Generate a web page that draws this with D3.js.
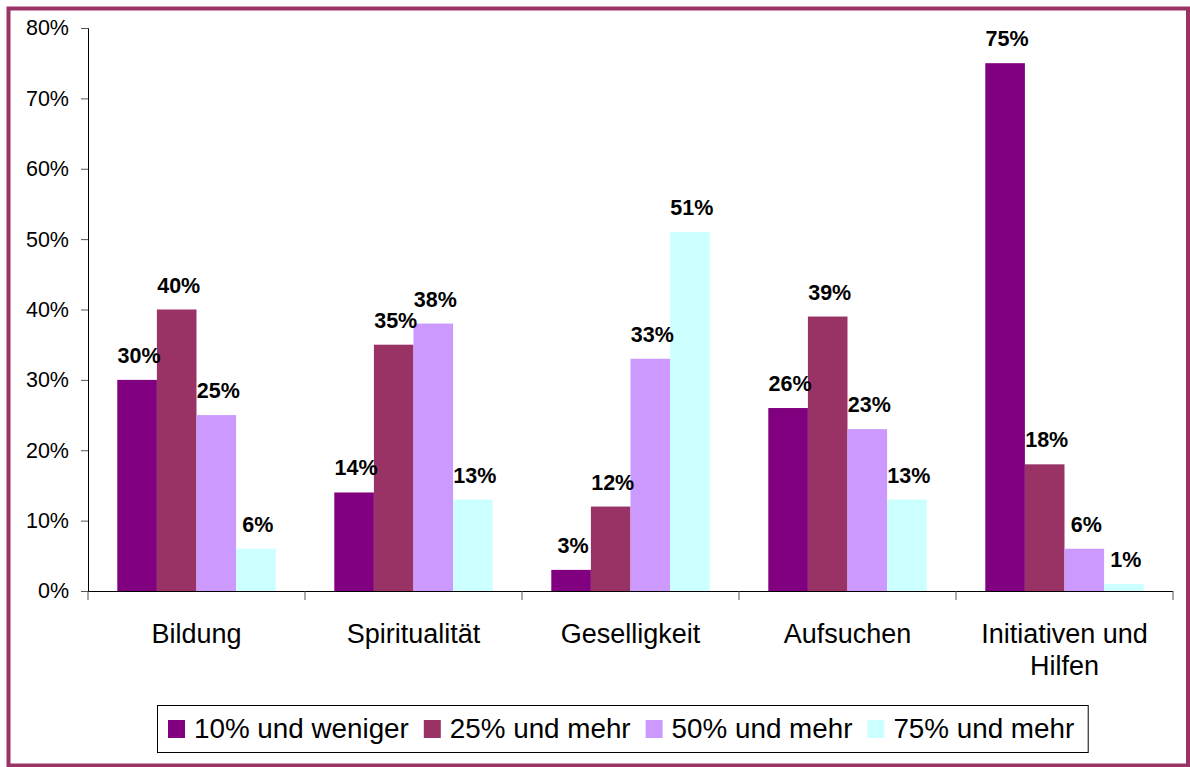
<!DOCTYPE html>
<html>
<head>
<meta charset="utf-8">
<script src="https://cdn.jsdelivr.net/npm/d3@7"></script>
<style>
  body { margin: 0; background: #fff; }
  svg { display: block; font-family: "Liberation Sans", Arial, sans-serif; }
</style>
</head>
<body>
<svg id="chart"></svg>
<script>
var categories = ["Bildung", "Spiritualität", "Geselligkeit", "Aufsuchen", "Initiativen und Hilfen"];
var seriesNames = ["10% und weniger", "25% und mehr", "50% und mehr", "75% und mehr"];
var weniger10 = [30, 14, 3, 26, 75];
var mehr25 = [40, 35, 12, 39, 18];
var mehr50 = [25, 38, 33, 23, 6];
var mehr75 = [6, 13, 51, 13, 1];
var yTicks = [0, 10, 20, 30, 40, 50, 60, 70, 80];
var colors = ["#800080", "#993366", "#CC99FF", "#CCFFFF"];

var seriesValues = [weniger10, mehr25, mehr50, mehr75];

var svgWidth = 1190, svgHeight = 767;
var plotLeft = 88, plotRight = 1173, plotTop = 28, plotBottom = 591;

var svg = d3.select("#chart")
    .attr("width", svgWidth)
    .attr("height", svgHeight);

// outer frame
svg.append("rect")
    .attr("x", 8.5).attr("y", 8.5)
    .attr("width", 1179.5).attr("height", 757)
    .attr("fill", "#fff")
    .attr("stroke", "#993366")
    .attr("stroke-width", 4);

var x0 = d3.scaleBand()
    .domain(categories)
    .range([plotLeft, plotRight])
    .paddingInner(0.27)
    .paddingOuter(0.135);

var x1 = d3.scaleBand()
    .domain(seriesNames)
    .range([0, x0.bandwidth()]);

var y = d3.scaleLinear()
    .domain([0, 80])
    .range([plotBottom, plotTop]);

// y axis
var yAxis = svg.append("g")
    .attr("transform", "translate(" + plotLeft + ",0)")
    .call(d3.axisLeft(y).tickValues(yTicks).tickSize(7).tickPadding(12)
        .tickFormat(function(d) { return d + "%"; }));
yAxis.select(".domain").attr("stroke", "#000");
yAxis.selectAll(".tick line").attr("stroke", "#555");
yAxis.selectAll("text")
    .attr("font-size", 21.5)
    .attr("fill", "#000")
    .attr("font-family", "Liberation Sans, Arial, sans-serif");

// bars
function rowsFor(i) {
    return seriesNames.map(function(s, j) { return { s: s, j: j, v: seriesValues[j][i] }; });
}

var groups = svg.selectAll(".grp")
    .data(categories)
    .enter()
    .append("g")
    .attr("class", "grp")
    .attr("transform", function(d) { return "translate(" + x0(d) + ",0)"; });

groups.selectAll("rect")
    .data(function(d, i) { return rowsFor(i); })
    .enter()
    .append("rect")
    .attr("x", function(d) { return x1(d.s); })
    .attr("y", function(d) { return y(d.v); })
    .attr("width", x1.bandwidth())
    .attr("height", function(d) { return plotBottom - y(d.v); })
    .attr("fill", function(d) { return colors[d.j]; });

groups.selectAll(".textlabel")
    .data(function(d, i) { return rowsFor(i); })
    .enter()
    .append("text")
    .attr("class", "textlabel")
    .attr("x", function(d) { return x1(d.s) + x1.bandwidth() / 2 + 2; })
    .attr("y", function(d) { return y(d.v) - 17; })
    .attr("text-anchor", "middle")
    .attr("font-size", 21.5)
    .attr("font-weight", "bold")
    .attr("fill", "#000")
    .text(function(d) { return d.v + "%"; });

// x axis: line with ticks at category boundaries
svg.append("line")
    .attr("x1", plotLeft).attr("x2", plotRight)
    .attr("y1", plotBottom + 0.5).attr("y2", plotBottom + 0.5)
    .attr("stroke", "#000");

var step = x0.step();
var bounds = d3.range(categories.length + 1).map(function(i) {
    return i === 0 ? plotLeft : x0(categories[i - 1]) + x0.bandwidth() + step * x0.paddingInner() / 2;
});
svg.selectAll(".xtick")
    .data(bounds)
    .enter()
    .append("line")
    .attr("x1", function(d) { return d; }).attr("x2", function(d) { return d; })
    .attr("y1", plotBottom).attr("y2", plotBottom + 9)
    .attr("stroke", "#555");

// category labels with wrapping
var catText = svg.selectAll(".cat")
    .data(categories)
    .enter()
    .append("text")
    .attr("class", "cat")
    .attr("text-anchor", "middle")
    .attr("font-size", 27)
    .attr("fill", "#000")
    .attr("transform", function(d) { return "translate(" + (x0(d) + x0.bandwidth() / 2) + ",643)"; });

catText.each(function(d) {
    var t = d3.select(this);
    var words = d.split(" ");
    var line = [];
    var lineNo = 0;
    var tspan = t.append("tspan").attr("x", 0).attr("y", 0);
    words.forEach(function(w) {
        line.push(w);
        tspan.text(line.join(" "));
        if (tspan.node().getComputedTextLength() > step - 10 && line.length > 1) {
            line.pop();
            tspan.text(line.join(" "));
            line = [w];
            lineNo++;
            tspan = t.append("tspan").attr("x", 0).attr("y", lineNo * 32).text(w);
        }
    });
});

// legend
var legend = svg.append("g");
var legBox = legend.append("rect")
    .attr("fill", "#fff")
    .attr("stroke", "#000")
    .attr("stroke-width", 1);

var cursor = 168;
var items = legend.selectAll(".leg")
    .data(seriesNames)
    .enter()
    .append("g")
    .attr("class", "leg");

items.each(function(d, i) {
    var g = d3.select(this);
    g.append("rect")
        .attr("x", cursor).attr("y", 720)
        .attr("width", 17).attr("height", 18)
        .attr("fill", colors[i]);
    var txt = g.append("text")
        .attr("x", cursor + 26).attr("y", 738)
        .attr("font-size", 27.8)
        .attr("fill", "#000")
        .text(d);
    cursor = cursor + 26 + txt.node().getComputedTextLength() + 15;
});

legBox.attr("x", 157.5).attr("y", 705.5)
    .attr("width", cursor - 157.5 - 1).attr("height", 47);
</script>
</body>
</html>
